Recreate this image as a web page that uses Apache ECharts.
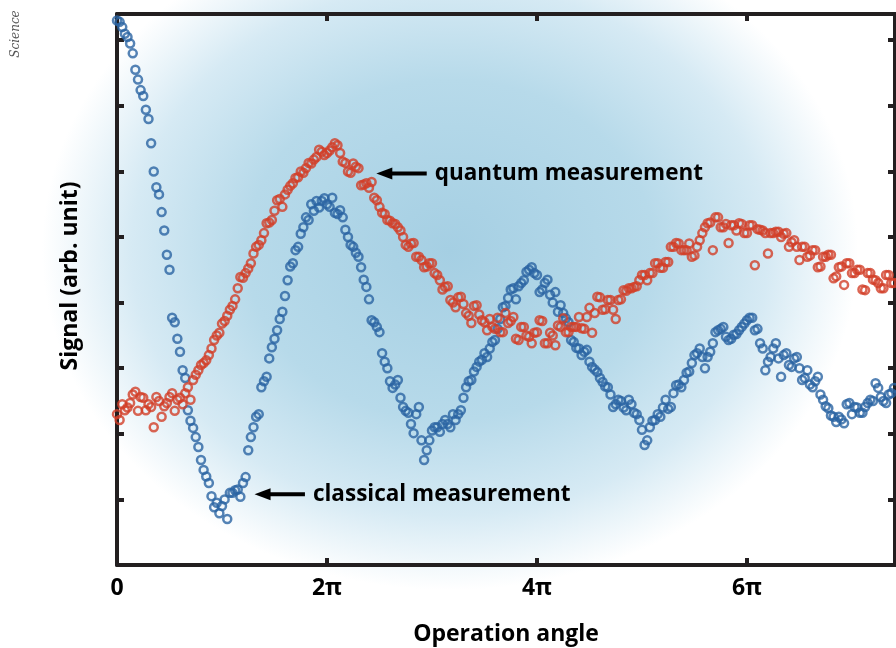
<!DOCTYPE html>
<html>
<head>
<meta charset="utf-8">
<script src="https://cdn.jsdelivr.net/npm/echarts@6/dist/echarts.min.js"></script>
<style>
  html, body { margin: 0; padding: 0; background: #fff; }
  #main { width: 896px; height: 648px; }
</style>
</head>
<body>
<div id="main"></div>
<script>
// operation angle, in units of pi (two interleaved sweeps)
var angle = [];
for (var i = 0; i <= 148; i++) angle.push(+(i * 0.05).toFixed(3));
var angleB = [];
for (var j = 0; j < 148; j++) angleB.push(+(0.025 + j * 0.05).toFixed(3));

// classical measurement (blue)
var classical = [
  8.3, 8.2, 8.05, 7.8, 7.4, 7.15, 6.8, 6.0, 5.65, 5.1,
  4.5, 3.7, 3.25, 2.85, 2.2, 1.95, 1.6, 1.35, 1.05, 0.95,
  0.9, 0.7, 1.1, 1.15, 1.25, 1.75, 2.1, 2.3, 2.8, 3.15,
  3.45, 3.75, 4.1, 4.55, 4.8, 5.05, 5.3, 5.5, 5.55, 5.55,
  5.5, 5.6, 5.35, 5.3, 5.0, 4.85, 4.7, 4.35, 4.05, 3.7,
  3.55, 3.1, 2.8, 2.75, 2.55, 2.35, 2.15, 2.3, 1.9, 1.75,
  2.05, 2.1, 2.15, 2.15, 2.3, 2.3, 2.55, 2.8, 2.95, 3.1,
  3.23, 3.3, 3.43, 3.75, 3.95, 4.2, 4.05, 4.3, 4.47, 4.54,
  4.42, 4.2, 4.35, 4.0, 3.86, 3.84, 3.7, 3.4, 3.3, 3.25,
  3.1, 2.98, 2.85, 2.72, 2.6, 2.45, 2.5, 2.36, 2.45, 2.3,
  2.06, 1.9, 2.2, 2.3, 2.4, 2.38, 2.62, 2.75, 2.82, 2.95,
  3.2, 3.3, 3.0, 3.25, 3.55, 3.6, 3.48, 3.45, 3.52, 3.63,
  3.73, 3.77, 3.6, 3.3, 3.1, 3.3, 3.15, 3.2, 3.05, 3.15,
  3.0, 2.85, 2.75, 2.8, 2.6, 2.42, 2.28, 2.18, 2.22, 2.45,
  2.3, 2.4, 2.32, 2.47, 2.5, 2.7, 2.5, 2.6, 2.7
];
var classicalB = [
  8.28, 8.1, 7.95, 7.55, 7.24, 6.94, 6.43, 5.76, 5.38, 4.73,
  3.77, 3.45, 2.97, 2.36, 2.09, 1.8, 1.45, 1.25, 0.88, 0.79,
  1.0, 1.1, 1.14, 1.04, 1.34, 1.95, 2.26, 2.71, 2.87, 3.32,
  3.58, 3.86, 4.34, 4.6, 4.85, 5.15, 5.26, 5.4, 5.45, 5.59,
  5.46, 5.37, 5.41, 5.11, 4.88, 4.76, 4.54, 4.24, 3.73, 3.63,
  3.23, 3.0, 2.7, 2.82, 2.41, 2.32, 2.01, 2.41, 1.6, 1.9,
  2.1, 2.03, 2.21, 2.1, 2.21, 2.36, 2.71, 2.82, 3.02, 3.13,
  3.17, 3.4, 3.6, 3.93, 4.07, 4.22, 4.25, 4.34, 4.5, 4.45,
  4.16, 4.3, 4.12, 4.16, 3.96, 3.76, 3.43, 3.31, 3.2, 3.28,
  3.02, 2.94, 2.79, 2.71, 2.41, 2.52, 2.4, 2.52, 2.32, 2.21,
  1.83, 2.1, 2.21, 2.26, 2.52, 2.41, 2.74, 2.71, 2.93, 3.08,
  3.23, 3.17, 3.17, 3.38, 3.58, 3.63, 3.43, 3.51, 3.58, 3.68,
  3.77, 3.58, 3.38, 2.97, 3.17, 3.38, 2.87, 3.23, 3.02, 3.17,
  2.82, 2.97, 2.71, 2.87, 2.52, 2.39, 2.26, 2.26, 2.16, 2.47,
  2.41, 2.32, 2.41, 2.52, 2.77, 2.56, 2.47, 2.62
];

// quantum measurement (red)
var quantum = [
  2.3, 2.45, 2.4, 2.6, 2.35, 2.55, 2.45, 2.1, 2.5, 2.42,
  2.56, 2.35, 2.55, 2.62, 2.52, 2.9, 3.05, 3.12, 3.3, 3.5,
  3.68, 3.8, 3.95, 4.22, 4.38, 4.52, 4.75, 4.88, 5.06, 5.22,
  5.4, 5.58, 5.65, 5.78, 5.9, 6.0, 6.05, 6.12, 6.22, 6.3,
  6.28, 6.37, 6.4, 6.15, 6.0, 6.12, 6.05, 5.8, 5.75, 5.6,
  5.46, 5.35, 5.25, 5.2, 5.1, 4.88, 4.9, 4.7, 4.65, 4.55,
  4.6, 4.42, 4.2, 4.25, 4.0, 4.08, 3.98, 3.8, 3.95, 3.82,
  3.7, 3.75, 3.6, 3.55, 3.84, 3.72, 3.45, 3.63, 3.5, 3.38,
  3.55, 3.72, 3.38, 3.5, 3.65, 3.76, 3.55, 3.63, 3.78, 3.6,
  3.92, 3.84, 4.08, 3.9, 4.04, 3.75, 4.05, 4.18, 4.22, 4.25,
  4.42, 4.34, 4.45, 4.6, 4.53, 4.62, 4.85, 4.9, 4.8, 4.9,
  4.72, 4.95, 5.15, 5.22, 5.3, 5.15, 5.2, 5.18, 5.1, 5.2,
  5.06, 5.18, 5.12, 5.1, 4.75, 5.06, 5.08, 5.05, 4.85, 4.95,
  4.65, 4.85, 4.72, 4.8, 4.55, 4.7, 4.73, 4.4, 4.55, 4.6,
  4.45, 4.5, 4.2, 4.45, 4.35, 4.3, 4.22, 4.42, 4.3
];
var quantumB = [
  2.21, 2.36, 2.47, 2.64, 2.56, 2.36, 2.41, 2.56, 2.26, 2.47,
  2.62, 2.52, 2.45, 2.71, 2.82, 2.97, 3.08, 3.2, 3.43, 3.54,
  3.72, 3.89, 4.05, 4.39, 4.45, 4.6, 4.85, 4.95, 5.21, 5.26,
  5.56, 5.46, 5.72, 5.82, 5.91, 5.98, 6.13, 6.18, 6.33, 6.25,
  6.32, 6.43, 6.28, 6.13, 5.98, 6.07, 5.79, 5.82, 5.84, 5.56,
  5.37, 5.26, 5.21, 5.15, 5.0, 4.85, 4.91, 4.7, 4.54, 4.6,
  4.45, 4.34, 4.24, 4.04, 3.93, 4.09, 3.84, 3.69, 3.96, 3.73,
  3.58, 3.63, 3.77, 3.55, 3.69, 3.78, 3.43, 3.63, 3.48, 3.54,
  3.73, 3.38, 3.54, 3.35, 3.63, 3.55, 3.63, 3.63, 3.61, 3.78,
  3.54, 4.09, 3.89, 4.04, 3.89, 4.04, 4.19, 4.22, 4.24, 4.34,
  4.42, 4.45, 4.6, 4.53, 4.62, 4.85, 4.91, 4.8, 4.8, 4.7,
  4.85, 5.06, 5.21, 4.8, 5.3, 5.15, 4.91, 5.18, 5.21, 5.06,
  5.18, 4.57, 5.11, 5.06, 5.06, 5.08, 5.0, 5.06, 4.92, 4.85,
  4.85, 4.7, 4.8, 4.54, 4.7, 4.73, 4.37, 4.54, 4.27, 4.6,
  4.45, 4.5, 4.19, 4.45, 4.34, 4.22, 4.42, 4.3
];

var xTicks = [0, 2, 4, 6];
var xTickLabels = ['0', '2π', '4π', '6π'];

var frameColor = '#231f20';
var font = '"Open Sans", "Noto Sans", sans-serif';

function pairs(xs, ys) {
  return xs.map(function (a, i) { return [a, ys[i]]; });
}

var chart = echarts.init(document.getElementById('main'));

function axisX(pos, showLabel) {
  return {
    type: 'value', position: pos, min: 0, max: 7.41, interval: 2,
    axisLine: { show: true, onZero: false, lineStyle: { color: frameColor, width: 4 } },
    axisTick: { show: true, inside: true, length: 7, lineStyle: { color: frameColor, width: 4 } },
    splitLine: { show: false },
    axisLabel: {
      show: showLabel, margin: 12, showMaxLabel: false,
      color: '#000', fontFamily: font, fontWeight: 'bold', fontSize: 23,
      formatter: function (v) {
        var k = xTicks.indexOf(v);
        return k < 0 ? '' : xTickLabels[k];
      }
    }
  };
}

function axisY(pos) {
  return {
    type: 'value', position: pos, min: 0, max: 8.4, interval: 1,
    axisLine: { show: true, onZero: false, lineStyle: { color: frameColor, width: 4 } },
    axisTick: { show: true, inside: true, length: 7, lineStyle: { color: frameColor, width: 4 } },
    splitLine: { show: false },
    axisLabel: { show: false }
  };
}

function ring(color) {
  return { color: 'rgba(0,0,0,0)', borderColor: color, borderWidth: 2.5 };
}

var option = {
  animation: false,
  grid: { left: 117, top: 14, width: 778, height: 551, outerBoundsMode: 'none', containLabel: false },
  xAxis: [
    Object.assign(axisX('bottom', true), {
      name: 'Operation angle', nameLocation: 'middle', nameGap: 58,
      nameTextStyle: { color: '#000', fontFamily: font, fontWeight: 'bold', fontSize: 23 }
    }),
    axisX('top', false)
  ],
  yAxis: [axisY('left'), axisY('right')],
  series: [
    {
      name: 'classical', type: 'scatter', symbol: 'circle', symbolSize: 8,
      itemStyle: ring('#2a64a2'),
      data: pairs(angle, classical).concat(pairs(angleB, classicalB)), z: 3
    },
    {
      name: 'quantum', type: 'scatter', symbol: 'circle', symbolSize: 8,
      itemStyle: ring('#d23e28'),
      data: pairs(angle, quantum).concat(pairs(angleB, quantumB)), z: 4
    }
  ]
};
chart.setOption(option);

// annotation arrows anchored in data coordinates
function arrow(tip, tail, text) {
  var p = chart.convertToPixel({ gridIndex: 0 }, tip);
  var q = chart.convertToPixel({ gridIndex: 0 }, tail);
  return [
    { type: 'line', shape: { x1: p[0] + 12, y1: p[1], x2: q[0], y2: q[1] },
      style: { stroke: '#000', lineWidth: 4 }, z: 10 },
    { type: 'polygon', shape: { points: [[p[0], p[1]], [p[0] + 16, p[1] - 6], [p[0] + 16, p[1] + 6]] },
      style: { fill: '#000' }, z: 10 },
    { type: 'text', x: q[0] + 8, y: p[1],
      style: { text: text, fill: '#000', font: 'bold 22.5px ' + font, verticalAlign: 'middle' }, z: 10 }
  ];
}

var bg = {
  type: 'rect', z: -100, silent: true,
  shape: { x: 450 - 340, y: 250 - 340, width: 680, height: 680 },
  originX: 450, originY: 250, scaleX: 1.2,
  style: {
    fill: new echarts.graphic.RadialGradient(0.5, 0.5, 0.5, [
      { offset: 0, color: '#a5cfe3' },
      { offset: 0.5, color: '#b7daea' },
      { offset: 0.78, color: '#d6eaf4' },
      { offset: 1, color: '#ffffff' }
    ])
  }
};

chart.setOption({
  graphic: [bg].concat(
    arrow([2.47, 5.97], [2.95, 5.97], 'quantum measurement'),
    arrow([1.31, 1.08], [1.79, 1.08], 'classical measurement'),
    [
      { type: 'text', x: 70, y: 276, rotation: Math.PI / 2,
        style: { text: 'Signal (arb. unit)', fill: '#000', font: 'bold 23px ' + font,
                 align: 'center', verticalAlign: 'middle' } },
      { type: 'text', x: 16, y: 34, rotation: Math.PI / 2,
        style: { text: 'Science', fill: '#555', font: 'italic 12px "DejaVu Serif", serif',
                 align: 'center', verticalAlign: 'middle' } }
    ]
  )
});

window.addEventListener('resize', function () { chart.resize(); });
</script>
</body>
</html>
